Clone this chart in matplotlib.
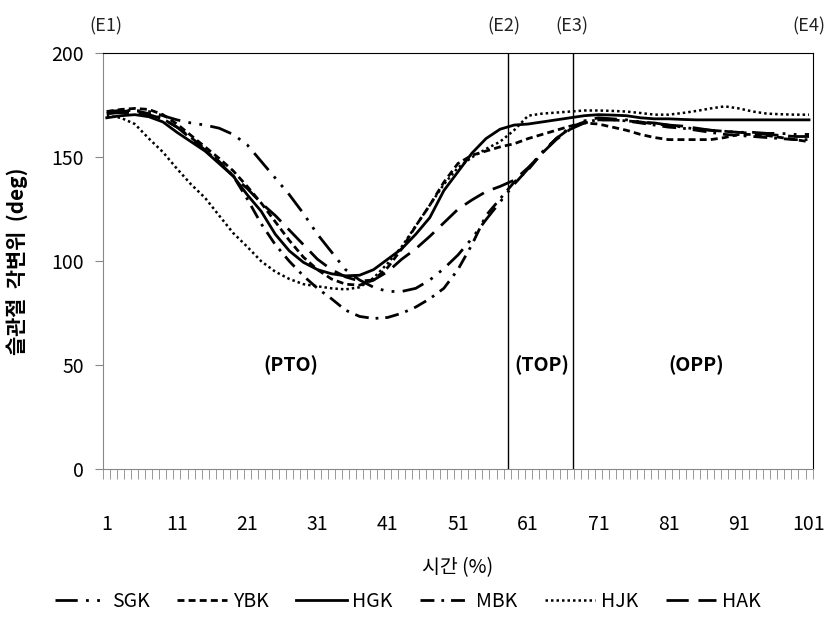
import matplotlib
matplotlib.use("Agg")
import matplotlib.pyplot as plt

plt.rcParams["font.family"] = ["Noto Sans CJK KR", "DejaVu Sans"]

# time (%) sample points, every 2 %
X = list(range(1, 102, 2))

SGK = [171, 172, 172.5, 172, 170, 168, 166.5, 165.5, 164, 161, 156, 148, 140, 132, 123, 113,
       104.5, 96, 91, 87.5, 85.5, 85.5, 87, 91, 96.5, 103, 111, 120, 128.5, 137, 144.5, 152.5, 159,
       164, 167.5, 169, 168.5, 168, 167, 166.5, 165.5, 164.5, 163.5, 163, 162.5, 162, 162, 161.5,
       161.5, 161, 161]
YBK = [172, 173, 173.5, 173, 170.5, 166, 160.5, 155, 149.5, 143.5, 136, 128, 119, 110, 102, 96,
       91.5, 89, 88.5, 91, 97, 106, 117, 127, 138, 147, 151, 153, 155, 156.5, 159, 161, 163, 165,
       166.5, 166, 164.5, 163, 161, 159.5, 158.5, 158.5, 158.5, 158.5, 159.5, 161, 161, 160.5,
       159.5, 158.5, 157.5]
HGK = [169, 170, 170.5, 169.5, 167, 162, 157.5, 153, 147, 141, 132, 124, 113, 105, 99.5, 96, 94,
       93, 93.3, 96, 101, 106, 113, 121, 134, 143, 152, 159, 163.5, 165.5, 166, 167, 168, 169, 170,
       170.5, 170.3, 170, 169, 168.5, 168.5, 168.2, 168, 168, 168, 168, 168, 168, 168, 168, 168]
MBK = [172, 172.5, 172.5, 171, 168.5, 164.5, 159.5, 154, 148, 141, 130, 118, 108, 100, 93, 87, 82,
       76.5, 73.5, 72.5, 73, 75, 78, 82, 87, 96, 108, 122, 130, 138, 144, 152, 159, 164.5, 167,
       168, 168, 167.5, 166.5, 165.5, 164.5, 164, 163, 162, 161, 160.5, 160, 159.5, 159, 158.5,
       158.5]
HJK = [170, 169, 166, 159, 152.5, 144.5, 137, 130.5, 122, 113.6, 107, 100, 95, 91.5, 89, 88, 87,
       86.5, 87.5, 92, 99, 107, 117, 127, 137, 145, 150, 154, 157.5, 163, 170, 171, 171.5, 172,
       172.5, 172.5, 172.3, 172, 171.3, 170.5, 170.5, 171.3, 172.3, 173.5, 174.5, 173.5, 172, 171,
       170.7, 170.5, 170.5]
HAK = [171, 171.5, 171.5, 170.5, 168.5, 164.5, 159, 153.5, 147.5, 141, 135, 128, 122, 115, 108,
       101, 96, 92.5, 90.5, 91, 95, 101, 106, 112, 118.5, 125, 129.5, 133.5, 136, 139, 145, 152,
       158.5, 163.5, 166.5, 168, 168, 167.5, 167, 166, 165.5, 165, 164, 163, 162.5, 162, 161.5, 161,
       160.5, 160, 160]

SERIES = ["SGK", "YBK", "HGK", "MBK", "HJK", "HAK"]
VALUES = {"SGK": SGK, "YBK": YBK, "HGK": HGK, "MBK": MBK, "HJK": HJK, "HAK": HAK}
DASHES = {"SGK": (0, (8, 3, 1, 3, 1, 3)), "YBK": (0, (2.5, 1.5)), "HGK": "-",
          "MBK": (0, (5, 2.5, 1, 2.5)), "HJK": (0, (1, 1.2)), "HAK": (0, (8, 3.5))}

PHASE_LINES = [58.2, 67.4]
EVENTS = ["(E1)", "(E2)", "(E3)", "(E4)"]
EVENT_X = [0.9, 57.6, 67.3, 101.0]
PHASES = ["(PTO)", "(TOP)", "(OPP)"]
PHASE_X = [27.2, 62.9, 85.0]

fig = plt.figure(figsize=(8.26, 6.17), dpi=100)
ax = fig.add_axes([0.125, 0.2394, 0.8587, 0.6742])

for name in SERIES:
    lw = 1.8 if name == "HJK" else 2.0
    ax.plot(X, VALUES[name], color="black", lw=lw, linestyle=DASHES[name], label=name)

for xv in PHASE_LINES:
    ax.axvline(xv, color="black", lw=1.0)

ax.set_xlim(0.5, 101.5)
ax.set_ylim(0, 200)
ax.set_yticks([0, 50, 100, 150, 200])
ax.set_xticks(list(range(1, 102, 10)))
ax.set_xticks([k + 0.5 for k in range(0, 102)], minor=True)
ax.tick_params(axis="x", which="major", length=0, pad=32, labelsize=14)
ax.tick_params(axis="x", which="minor", length=7, color="#888888", direction="out")
ax.tick_params(axis="y", length=6, color="#888888", pad=8, labelsize=14)
for side in ["left", "bottom"]:
    ax.spines[side].set_color("#888888")
for side in ["top", "right"]:
    ax.spines[side].set_color("black")

ax.set_ylabel("슬관절  각변위  (deg)", fontsize=15, fontweight="bold")
ax.yaxis.set_label_coords(-0.105, 0.5)
ax.set_xlabel("시간 (%)", fontsize=14, labelpad=16)

for txt, xv in zip(EVENTS, EVENT_X):
    ax.text(xv, 1.065, txt, transform=ax.get_xaxis_transform(), ha="center", va="center",
            fontsize=13, color="#222222")
for txt, xv in zip(PHASES, PHASE_X):
    ax.text(xv, 50, txt, ha="center", va="center", fontsize=14, fontweight="bold")

fig.legend(loc="center", bbox_to_anchor=(0.494, 0.025), ncol=6, frameon=False, fontsize=14,
           handlelength=2.6, handletextpad=0.3, columnspacing=1.4)

fig.savefig("out.png", dpi=100)
